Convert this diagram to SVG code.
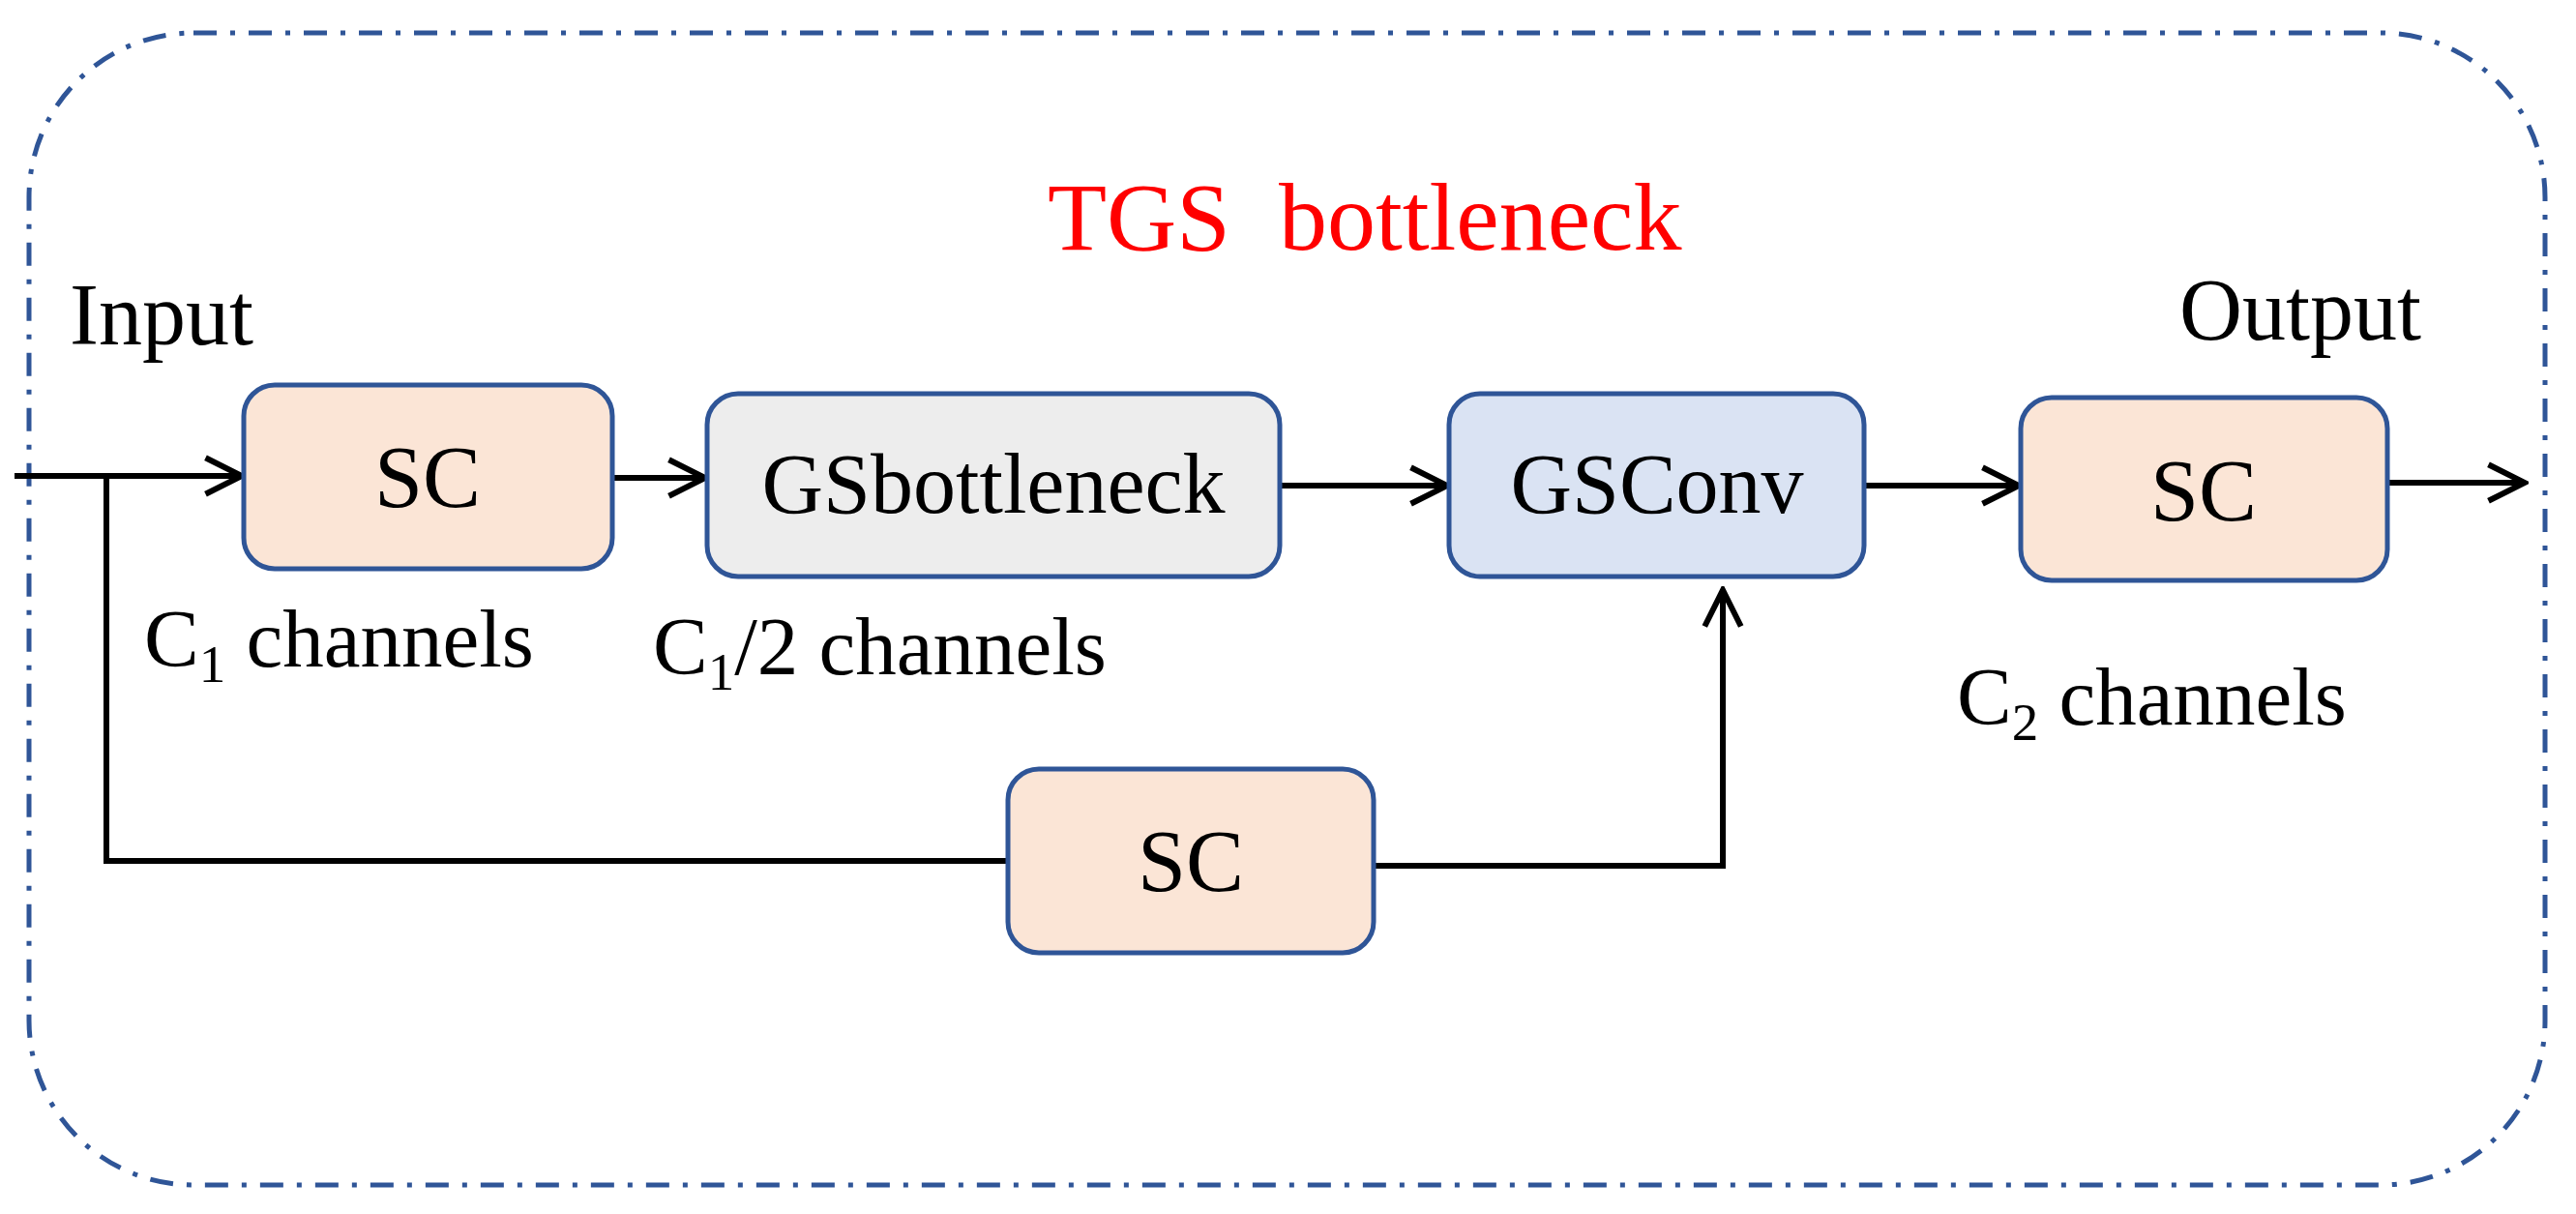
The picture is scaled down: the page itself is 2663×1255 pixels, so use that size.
<svg xmlns="http://www.w3.org/2000/svg" width="2663" height="1255" viewBox="0 0 2663 1255">
<style>
text{font-family:"Liberation Serif","Times New Roman",serif;fill:#000}
.n{stroke:#2f5597;stroke-width:5}
.sc{fill:#fbe5d6}.gs{fill:#ededed}.gc{fill:#dae3f3}
.c{fill:none;stroke:#000;stroke-width:6}
.t{text-anchor:middle}
</style>
<defs><marker id="a" viewBox="0 0 12 12" refX="11" refY="6" markerWidth="7.5" markerHeight="7.5" markerUnits="strokeWidth" orient="auto"><path d="M1,1 L11,6 L1,11" fill="none" stroke="#000" stroke-width="1.6"/></marker></defs>
<rect x="30" y="34" width="2601" height="1191" rx="170" fill="none" stroke="#2f5597" stroke-width="5" stroke-dasharray="24,14,5,14"/>
<text x="1083" y="258" font-size="100" style="fill:#ff0000" xml:space="preserve">TGS  bottleneck</text>
<text x="72" y="356" font-size="90">Input</text>
<text x="2253" y="351" font-size="90">Output</text>
<text x="149" y="689" font-size="85">C<tspan font-size="55" dy="16">1</tspan><tspan dy="-16"> channels</tspan></text>
<text x="675" y="697" font-size="85">C<tspan font-size="55" dy="16">1</tspan><tspan dy="-16">/2 channels</tspan></text>
<text x="2023" y="749" font-size="85">C<tspan font-size="55" dy="16">2</tspan><tspan dy="-16"> channels</tspan></text>
<g id="connectors">
<path class="c" d="M15,492 H250" marker-end="url(#a)"/>
<path class="c" d="M110,492 V890 H1042"/>
<path class="c" d="M633,494 H729" marker-end="url(#a)"/>
<path class="c" d="M1323,502 H1496" marker-end="url(#a)"/>
<path class="c" d="M1420,895 H1781 V610" marker-end="url(#a)"/>
<path class="c" d="M1927,502 H2087" marker-end="url(#a)"/>
<path class="c" d="M2468,499 H2610" marker-end="url(#a)"/>
</g>
<g id="sc1"><rect class="n sc" x="252" y="398" width="381" height="190" rx="32"/><text x="442" y="524" font-size="90" class="t">SC</text></g>
<g id="gsb"><rect class="n gs" x="731" y="407" width="592" height="189" rx="32"/><text x="1027" y="530" font-size="88" class="t">GSbottleneck</text></g>
<g id="gsconv"><rect class="n gc" x="1498" y="407" width="429" height="189" rx="32"/><text x="1713" y="530" font-size="88" class="t">GSConv</text></g>
<g id="sc2"><rect class="n sc" x="2089" y="411" width="379" height="189" rx="32"/><text x="2278" y="538" font-size="90" class="t">SC</text></g>
<g id="sc3"><rect class="n sc" x="1042" y="795" width="378" height="190" rx="32"/><text x="1231" y="921" font-size="90" class="t">SC</text></g>
</svg>
